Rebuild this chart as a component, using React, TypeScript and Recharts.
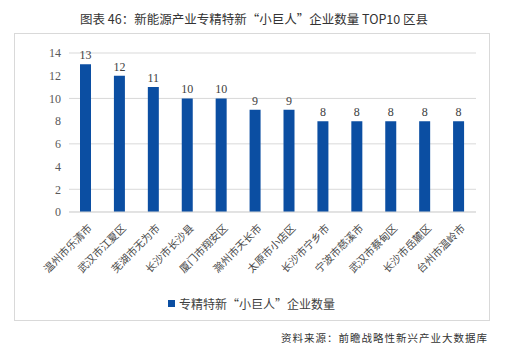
import React from "react";
import { BarChart, Bar, XAxis, YAxis, CartesianGrid, LabelList } from "recharts";

const categories = [
  "温州市乐清市",
  "武汉市江夏区",
  "芜湖市无为市",
  "长沙市长沙县",
  "厦门市翔安区",
  "滁州市天长市",
  "太原市小店区",
  "长沙市宁乡市",
  "宁波市慈溪市",
  "武汉市蔡甸区",
  "长沙市岳麓区",
  "台州市温岭市",
];
const counts = [13, 12, 11, 10, 10, 9, 9, 8, 8, 8, 8, 8];
const yTicks = [0, 2, 4, 6, 8, 10, 12, 14];
const seriesName = "专精特新“小巨人”企业数量";
const title = "图表 46：新能源产业专精特新“小巨人”企业数量 TOP10 区县";
const source = "资料来源：前瞻战略性新兴产业大数据库";

const data = categories.map((c, i) => ({ name: c, value: counts[i] }));

const BAR = "#0b4ea2";
const FONT = "'Liberation Serif', 'Noto Sans CJK SC', serif";
const CJK = "'Noto Sans CJK SC', 'Liberation Serif', serif";

const XTick = (props: any) => {
  const { x, y, payload } = props;
  return (
    <g transform={`translate(${x + 4},${y + 6})`}>
      <text
        x={0}
        y={0}
        dy={4}
        textAnchor="end"
        transform="rotate(-45)"
        fontSize={10.5}
        fill="#4a4a4a"
        fontFamily={FONT}
      >
        {payload.value}
      </text>
    </g>
  );
};

export default function App() {
  return (
    <div
      style={{
        position: "absolute",
        left: 0,
        top: 0,
        width: 508,
        height: 354,
        background: "#fff",
        fontFamily: FONT,
      }}
    >
      <div
        style={{
          position: "absolute",
          left: 0,
          width: 508,
          top: 9,
          textAlign: "center",
          fontSize: 12.5,
          color: "#333",
          fontFamily: CJK,
        }}
      >
        {title}
      </div>
      <div
        style={{
          position: "absolute",
          left: 14,
          top: 33,
          width: 476,
          height: 288,
          border: "1px solid #d9d9d9",
          boxSizing: "border-box",
        }}
      />
      <div style={{ position: "absolute", left: 0, top: 0 }}>
        <BarChart
          width={508}
          height={354}
          data={data}
          margin={{ top: 53, right: 32, left: 0, bottom: 82 }}
          barSize={11}
        >
          <CartesianGrid vertical={false} stroke="#d9d9d9" />
          <XAxis
            dataKey="name"
            interval={0}
            height={60}
            axisLine={{ stroke: "#d9d9d9" }}
            tickLine={false}
            tick={<XTick />}
          />
          <YAxis
            width={69}
            domain={[0, 14]}
            ticks={yTicks}
            axisLine={false}
            tickLine={false}
            tickMargin={2}
            tick={{ fontSize: 12, fill: "#595959", fontFamily: FONT }}
          />
          <Bar dataKey="value" fill={BAR} isAnimationActive={false}>
            <LabelList
              dataKey="value"
              position="top"
              offset={5}
              style={{ fontSize: 12, fill: "#404040", fontFamily: FONT }}
            />
          </Bar>
        </BarChart>
      </div>
      <div
        style={{
          position: "absolute",
          left: 168,
          top: 295,
          fontSize: 12,
          color: "#404040",
          display: "flex",
          alignItems: "center",
          fontFamily: CJK,
        }}
      >
        <span
          style={{
            display: "inline-block",
            width: 7,
            height: 7,
            background: BAR,
            marginRight: 4,
          }}
        />
        {seriesName}
      </div>
      <div
        style={{
          position: "absolute",
          right: 20,
          top: 330,
          fontSize: 10.5,
          color: "#333",
          letterSpacing: 1,
          fontFamily: CJK,
        }}
      >
        {source}
      </div>
    </div>
  );
}
